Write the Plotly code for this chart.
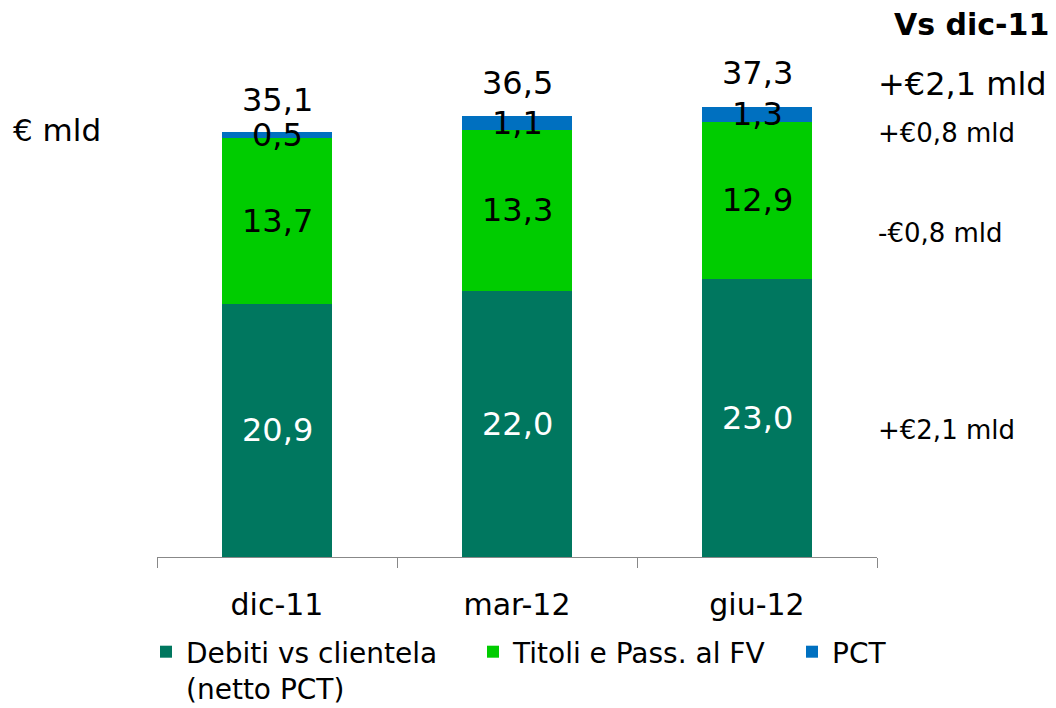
import plotly.graph_objects as go

categories = ["dic-11", "mar-12", "giu-12"]
debiti = [20.9, 22.0, 23.0]
titoli = [13.7, 13.3, 12.9]
pct = [0.5, 1.1, 1.3]
totals = [35.1, 36.5, 37.3]
series_names = ["Debiti vs clientela<br>(netto PCT)", "Titoli e Pass. al FV", "PCT"]
colors = ["#00775F", "#00CC00", "#0070C0"]
delta_labels = ["+€2,1 mld", "+€0,8 mld", "-€0,8 mld", "+€2,1 mld"]

def fmt(v):
    return f"{v:.1f}".replace(".", ",")

FONT = "DejaVu Sans"
OFF = 8  # default page body margin
W, H = 1056 - OFF, 708 - OFF

fig = go.Figure()
legend_ids = ["legend", "legend2", "legend3"]
for name, vals, col, lg in zip(series_names, [debiti, titoli, pct], colors, legend_ids):
    fig.add_trace(go.Bar(x=categories, y=vals, name=name, marker=dict(color=col, line=dict(width=0)),
                         width=0.46, hoverinfo="skip", legend=lg))

ann = []
for i, c in enumerate(categories):
    base = 0
    for vals, tc in zip([debiti, titoli, pct], ["white", "black", "black"]):
        v = vals[i]
        ann.append(dict(x=c, y=base + v / 2, xref="x", yref="y", text=fmt(v), showarrow=False,
                        font=dict(size=32, color=tc, family=FONT), yanchor="middle"))
        base += v
    ann.append(dict(x=c, y=totals[i], xref="x", yref="y", text=fmt(totals[i]), showarrow=False,
                    font=dict(size=32, color="black", family=FONT), yanchor="middle", yshift=32))

# paper coords: 0 = axis at 557px, 1 = 40px (screen)
def py(p):
    return (557 - p) / 517

def px(p):
    return (p - 157) / 720

right = [(delta_labels[0], 84, 32), (delta_labels[1], 133, 26), (delta_labels[2], 233, 26), (delta_labels[3], 430, 26)]
for t, p, s in right:
    ann.append(dict(x=px(876), y=py(p), xref="paper", yref="paper", text=t, showarrow=False,
                    xanchor="left", yanchor="middle", font=dict(size=s, color="black", family=FONT)))
ann.append(dict(x=px(1051), y=py(25), xref="paper", yref="paper", text="<b>Vs dic-11</b>",
                showarrow=False, xanchor="right", yanchor="middle", font=dict(size=30, color="black", family=FONT)))
ann.append(dict(x=px(11), y=py(130), xref="paper", yref="paper", text="€ mld",
                showarrow=False, xanchor="left", yanchor="middle", font=dict(size=31, color="black", family=FONT)))

def leg(xs):
    return dict(orientation="h", xref="container", yref="container", x=(xs - OFF) / W, xanchor="left",
                y=1 - (627 - OFF) / H, yanchor="top", font=dict(size=28, family=FONT), valign="top",
                itemclick=False, itemdoubleclick=False, bgcolor="rgba(0,0,0,0)")

fig.update_layout(
    barmode="stack",
    width=W, height=H,
    margin=dict(l=157 - OFF, r=W - (157 - OFF) - 720, t=40 - OFF, b=H - (40 - OFF) - 517, autoexpand=False),
    paper_bgcolor="white", plot_bgcolor="white",
    font=dict(family=FONT, color="black"),
    showlegend=True,
    legend=leg(146), legend2=leg(473), legend3=leg(792),
    annotations=ann,
)
fig.update_xaxes(showline=True, linecolor="#888888", linewidth=1, ticks="outside", tickson="boundaries",
                 ticklen=10, tickcolor="#888888", tickfont=dict(size=30, family=FONT, color="black"),
                 ticklabelstandoff=21, showgrid=False, zeroline=False, automargin=False)
fig.update_yaxes(visible=False, range=[0, 517 / 12.108], showgrid=False, zeroline=False, automargin=False)

fig.write_html("out.html")
